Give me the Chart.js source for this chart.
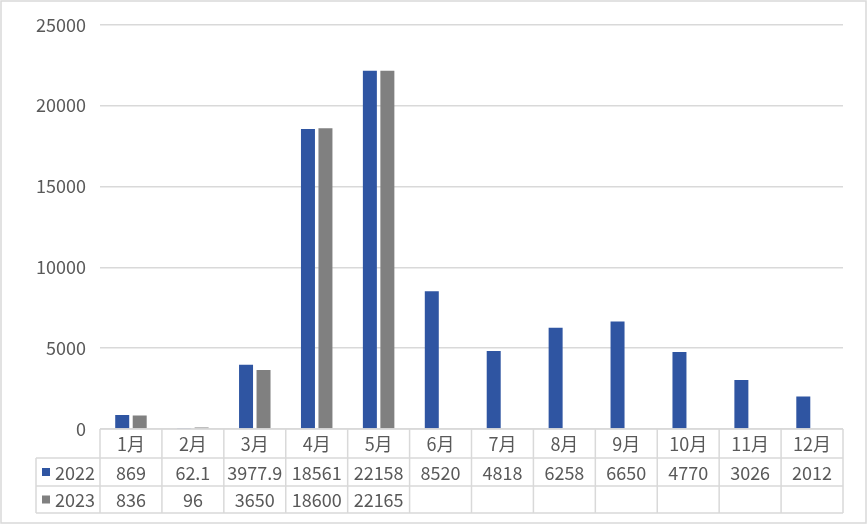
<!DOCTYPE html>
<html>
<head>
<meta charset="utf-8">
<script src="https://cdn.jsdelivr.net/npm/chart.js@4"></script>
<style>
  body { margin: 0; background: #fff; }
</style>
</head>
<body>
<canvas id="monthChart" width="867" height="524"></canvas>
<script>
const months = ['1月', '2月', '3月', '4月', '5月', '6月', '7月', '8月', '9月', '10月', '11月', '12月'];
const seriesNames = ['2022', '2023'];
const values2022 = [869, 62.1, 3977.9, 18561, 22158, 8520, 4818, 6258, 6650, 4770, 3026, 2012];
const values2023 = [836, 96, 3650, 18600, 22165, null, null, null, null, null, null, null];
const yMax = 25000;
const yStep = 5000;

const colors = ['#2F55A2', '#808080'];
const textColor = '#595959';
const lineColor = '#d9d9d9';
const font = '"Noto Sans CJK SC", "Noto Sans", sans-serif';
const fontSize = 18;

// data table under the plot, cells follow the x scale
const tablePlugin = {
    id: 'dataTable',
    afterDraw(chart) {
        const { ctx, chartArea, scales } = chart;
        const x = scales.x;
        const left = chartArea.left;
        const right = chartArea.right;
        const cw = (right - left) / months.length;
        const rows = [chartArea.bottom, 458, 486, 513];
        const labelLeft = 36;

        ctx.save();
        ctx.strokeStyle = lineColor;
        ctx.lineWidth = 1.5;
        ctx.beginPath();
        // horizontal lines
        ctx.moveTo(left, rows[0]); ctx.lineTo(right, rows[0]);
        for (let r = 1; r < rows.length; r++) {
            ctx.moveTo(labelLeft, rows[r]); ctx.lineTo(right, rows[r]);
        }
        // vertical lines
        ctx.moveTo(labelLeft, rows[1]); ctx.lineTo(labelLeft, rows[3]);
        for (let i = 0; i <= months.length; i++) {
            const xx = left + i * cw;
            ctx.moveTo(xx, rows[0]); ctx.lineTo(xx, rows[3]);
        }
        ctx.stroke();

        ctx.fillStyle = textColor;
        ctx.font = fontSize + 'px ' + font;
        ctx.textAlign = 'center';
        ctx.textBaseline = 'middle';
        months.forEach((m, i) => {
            const cx = x.getPixelForValue(i);
            ctx.fillText(m, cx, (rows[0] + rows[1]) / 2 + 1);
        });
        [values2022, values2023].forEach((vals, s) => {
            const cy = (rows[s + 1] + rows[s + 2]) / 2 + 1;
            vals.forEach((v, i) => {
                if (v === null) return;
                ctx.fillText(String(v), x.getPixelForValue(i), cy);
            });
            // legend key + series name
            ctx.fillStyle = colors[s];
            ctx.fillRect(42, cy - 5, 8, 8);
            ctx.fillStyle = textColor;
            ctx.textAlign = 'left';
            ctx.fillText(seriesNames[s], 55, cy);
            ctx.textAlign = 'center';
        });

        // outer frame
        ctx.strokeStyle = lineColor;
        ctx.lineWidth = 1.5;
        ctx.strokeRect(1, 1, chart.width - 2, chart.height - 2);
        ctx.restore();
    }
};

new Chart(document.getElementById('monthChart'), {
    type: 'bar',
    data: {
        labels: months,
        datasets: [
            { label: seriesNames[0], data: values2022, backgroundColor: colors[0] },
            { label: seriesNames[1], data: values2023, backgroundColor: colors[1] }
        ]
    },
    options: {
        responsive: false,
        animation: false,
        categoryPercentage: 0.565,
        barPercentage: 0.8,
        layout: { padding: { top: 24, right: 24, bottom: 95, left: 0 } },
        plugins: {
            legend: { display: false },
            tooltip: { enabled: false }
        },
        scales: {
            x: { display: false },
            y: {
                min: 0,
                max: yMax,
                afterFit(scale) { scale.width = 100; },
                ticks: {
                    stepSize: yStep,
                    padding: 14,
                    color: textColor,
                    font: { family: font, size: fontSize },
                    callback: v => String(v)
                },
                grid: { color: lineColor, lineWidth: 1.5, drawTicks: false },
                border: { display: false }
            }
        }
    },
    plugins: [tablePlugin]
});
</script>
</body>
</html>
